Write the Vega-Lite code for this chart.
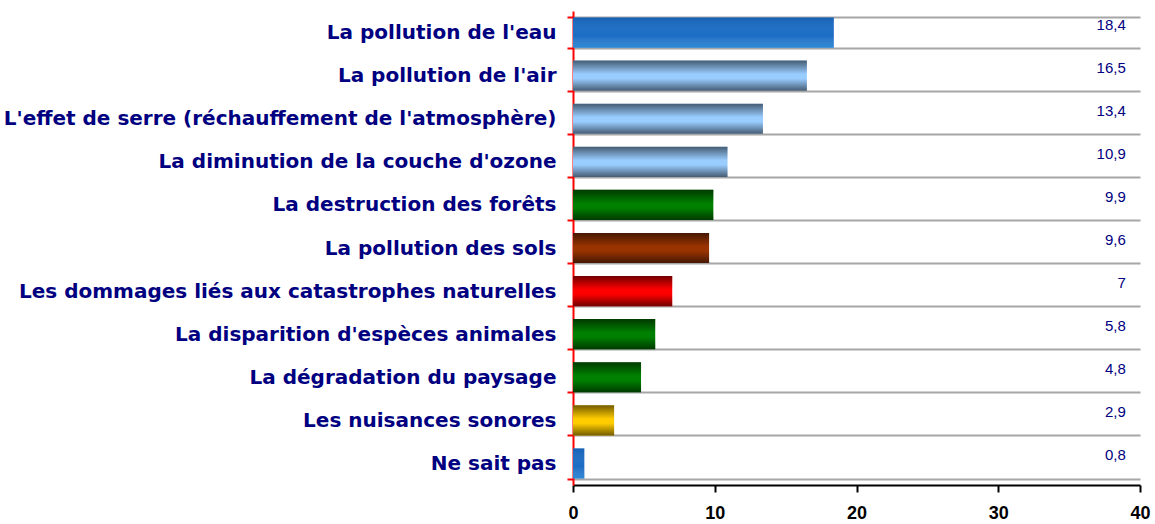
{
  "$schema": "https://vega.github.io/schema/vega-lite/v6.json",
  "width": 567,
  "height": 474,
  "autosize": {"type": "none"},
  "padding": {"left": 573, "top": 11, "right": 15, "bottom": 39},
  "background": "white",
  "config": {
    "view": {"stroke": null},
    "locale": {"number": {"decimal": ",", "thousands": " ", "grouping": [3], "currency": ["", " €"]}}
  },
  "data": {
    "values": [
      {"cat": "La pollution de l'eau", "val": 18.4},
      {"cat": "La pollution de l'air", "val": 16.5},
      {"cat": "L'effet de serre (réchauffement de l'atmosphère)", "val": 13.4},
      {"cat": "La diminution de la couche d'ozone", "val": 10.9},
      {"cat": "La destruction des forêts", "val": 9.9},
      {"cat": "La pollution des sols", "val": 9.6},
      {"cat": "Les dommages liés aux catastrophes naturelles", "val": 7},
      {"cat": "La disparition d'espèces animales", "val": 5.8},
      {"cat": "La dégradation du paysage", "val": 4.8},
      {"cat": "Les nuisances sonores", "val": 2.9},
      {"cat": "Ne sait pas", "val": 0.8}
    ]
  },
  "encoding": {
    "y": {
      "field": "cat", "type": "nominal", "sort": null,
      "scale": {"paddingInner": 0.3, "paddingOuter": 0.15},
      "axis": {
        "title": null,
        "domainColor": "#ff0000", "domainWidth": 2,
        "tickColor": "#ff0000", "tickWidth": 2, "tickSize": 6, "tickBand": "extent",
        "grid": true, "gridColor": "#a6a6a6", "gridWidth": 2,
        "labelFont": "DejaVu Sans", "labelFontWeight": "bold", "labelFontSize": 20,
        "labelColor": "#000080", "labelPadding": 11, "labelLimit": 0
      }
    }
  },
  "layer": [
    {
      "mark": {"type": "bar"},
      "encoding": {
        "x": {
          "field": "val", "type": "quantitative",
          "scale": {"domain": [0, 40], "nice": false},
          "axis": {
            "title": null, "values": [0, 10, 20, 30, 40], "grid": false,
            "domainColor": "#000000", "domainWidth": 2,
            "tickColor": "#000000", "tickWidth": 2, "tickSize": 7,
            "labelFont": "Liberation Sans", "labelFontWeight": "bold", "labelFontSize": 18,
            "labelColor": "#000000", "labelPadding": 12, "labelFlush": false
          }
        },
        "color": {
          "field": "cat", "type": "nominal", "legend": null,
          "scale": {
            "domain": [
              "La pollution de l'eau", "La pollution de l'air",
              "L'effet de serre (réchauffement de l'atmosphère)", "La diminution de la couche d'ozone",
              "La destruction des forêts", "La pollution des sols",
              "Les dommages liés aux catastrophes naturelles", "La disparition d'espèces animales",
              "La dégradation du paysage", "Les nuisances sonores", "Ne sait pas"
            ],
            "range": ["#1a6cc4", "#99ccff", "#99ccff", "#99ccff", "#008000", "#993300", "#ff0000", "#008000", "#008000", "#ffcc00", "#1a6cc4"]
          }
        }
      }
    },
    {
      "transform": [{"filter": "datum.cat != \"La pollution de l'eau\" && datum.cat != 'Ne sait pas'"}],
      "mark": {
        "type": "bar",
        "fill": {
          "gradient": "linear", "x1": 0, "y1": 0, "x2": 0, "y2": 1,
          "stops": [
            {"offset": 0, "color": "rgba(0,0,0,0.55)"},
            {"offset": 0.45, "color": "rgba(0,0,0,0)"},
            {"offset": 0.6, "color": "rgba(0,0,0,0)"},
            {"offset": 1, "color": "rgba(0,0,0,0.55)"}
          ]
        }
      },
      "encoding": {"x": {"field": "val", "type": "quantitative"}}
    },
    {
      "transform": [{"filter": "datum.cat == \"La pollution de l'eau\" || datum.cat == 'Ne sait pas'"}],
      "mark": {
        "type": "bar",
        "fill": {
          "gradient": "linear", "x1": 0, "y1": 0, "x2": 0, "y2": 1,
          "stops": [
            {"offset": 0, "color": "rgba(0,30,90,0.15)"},
            {"offset": 0.6, "color": "rgba(255,255,255,0)"},
            {"offset": 1, "color": "rgba(80,200,255,0.3)"}
          ]
        }
      },
      "encoding": {"x": {"field": "val", "type": "quantitative"}}
    },
    {
      "mark": {"type": "text", "align": "right", "baseline": "middle", "dy": -8, "font": "Liberation Sans", "fontSize": 15, "color": "#000080"},
      "encoding": {
        "x": {"datum": 39.0, "type": "quantitative"},
        "text": {"field": "val", "type": "quantitative", "format": "~g"}
      }
    }
  ]
}
